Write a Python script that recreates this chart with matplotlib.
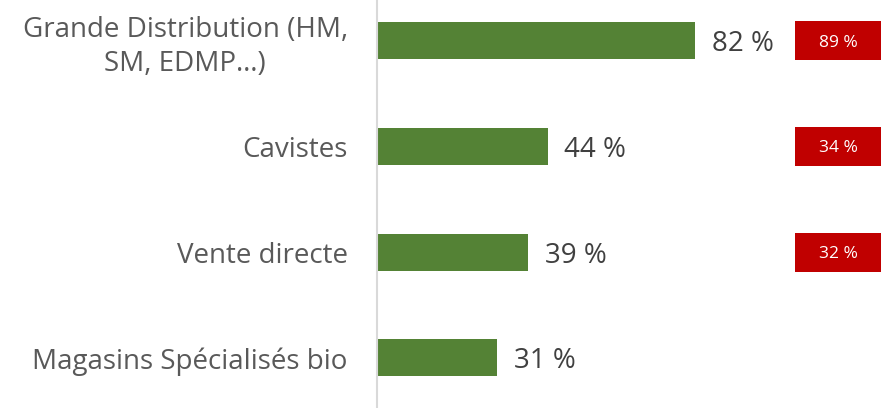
import matplotlib.pyplot as plt
import numpy as np

plt.rcParams['font.family'] = ['Open Sans', 'DejaVu Sans']

categories = ["Grande Distribution (HM,\nSM, EDMP…)", "Cavistes", "Vente directe",
              "Magasins Spécialisés bio"]
values = [82, 44, 39, 31]
ref_values = [89, 34, 32]  # red boxes, only for the first three rows

green = "#548235"
red = "#c00000"

W, H = 881, 408
dpi = 100
fig = plt.figure(figsize=(W / dpi, H / dpi), dpi=dpi)

# axes from the vertical line (x=377px) to the right edge
px_per_pct = 3.88
x0 = 377
ax = fig.add_axes([x0 / W, 0, 1 - x0 / W, 1])
ax.set_xlim(0, (W - x0) / px_per_pct)

# bar centres at 40.5px from top, spacing ~105.8px
step = 105.8
top = 40.5
ax.set_ylim((H - top) / step, -top / step)

y = np.arange(len(categories))
ax.barh(y, values, height=0.35, color=green, zorder=2)

for yi, v in zip(y, values):
    ax.annotate("%d %%" % v, (v, yi), xytext=(12, 0), textcoords="offset points",
                va="center_baseline", ha="left", fontsize=20, color="#404040")

# red boxes
box_left = (795 - x0) / px_per_pct
box_w = (W - 795) / px_per_pct
for yi, v in zip(y[:len(ref_values)], ref_values):
    ax.barh(yi, box_w, left=box_left, height=0.37, color=red, zorder=2)
    ax.text(box_left + box_w / 2, yi, "%d %%" % v, ha="center", va="center_baseline",
            fontsize=12.5, color="white")

ax.set_yticks(y)
ax.set_yticklabels(categories, fontsize=20, color="#595959")
for lbl in ax.get_yticklabels():
    lbl.set_multialignment("center")
    lbl.set_linespacing(1.3)
ax.tick_params(axis="y", length=0, pad=21)
ax.set_xticks([])

for s in ["top", "right", "bottom"]:
    ax.spines[s].set_visible(False)
ax.spines["left"].set_color("#d9d9d9")
ax.spines["left"].set_linewidth(1.5)

fig.savefig("out.png", dpi=dpi)
